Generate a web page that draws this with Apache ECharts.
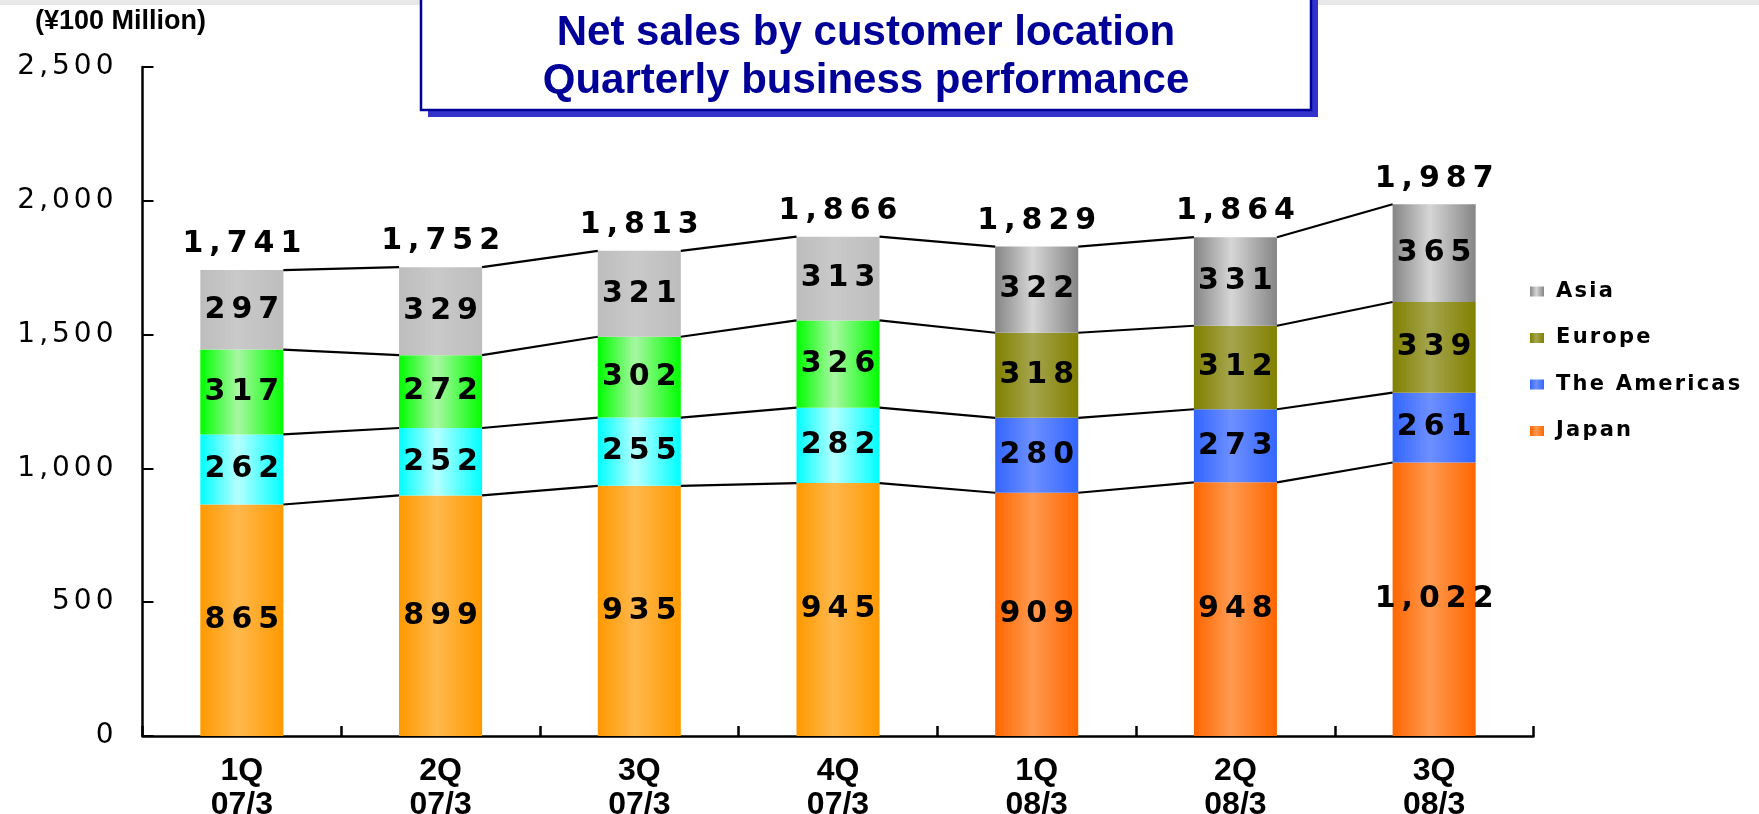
<!DOCTYPE html>
<html>
<head>
<meta charset="utf-8">
<title>Net sales by customer location</title>
<script src="https://cdn.jsdelivr.net/npm/echarts@6/dist/echarts.min.js"></script>
<style>
  html, body { margin: 0; padding: 0; background: #fff; }
  #chart { width: 1759px; height: 814px; }
</style>
</head>
<body>
<div id="chart"></div>
<script>
// Quarterly net sales by customer location (¥100 million)
const quarters    = ['1Q', '2Q', '3Q', '4Q', '1Q', '2Q', '3Q'];
const fiscalYears = ['07/3', '07/3', '07/3', '07/3', '08/3', '08/3', '08/3'];
const japan    = [865, 899, 935, 945, 909, 948, 1022];
const americas = [262, 252, 255, 282, 280, 273, 261];
const europe   = [317, 272, 302, 326, 318, 312, 339];
const asia     = [297, 329, 321, 313, 322, 331, 365];
const yTicks   = [0, 500, 1000, 1500, 2000, 2500];

const categories = quarters.map((q, i) => q + '\n' + fiscalYears[i]);
const totals = japan.map((v, i) => v + americas[i] + europe[i] + asia[i]);

// cumulative boundaries used by the connector lines
const cumJapan    = japan.slice();
const cumAmericas = japan.map((v, i) => v + americas[i]);
const cumEurope   = cumAmericas.map((v, i) => v + europe[i]);
const levels = [cumJapan, cumAmericas, cumEurope, totals];

const BAR_RATIO = 0.418;

// horizontal "cylinder" shading: dark edges, lighter middle
const shade = (edge, mid) => new echarts.graphic.LinearGradient(0, 0, 1, 0, [
  { offset: 0, color: edge },
  { offset: 0.45, color: mid },
  { offset: 1, color: edge }
]);

const palette = {
  Japan:          { old: shade('#FF9900', '#FFB84C'), cur: shade('#FF6600', '#FF9A50') },
  'The Americas': { old: shade('#00FFFF', '#B6FFFF'), cur: shade('#3366FF', '#6D8FFF') },
  Europe:         { old: shade('#00FF00', '#A8F7A2'), cur: shade('#808000', '#A5A54E') },
  Asia:           { old: shade('#BDBDBD', '#C9C9C9'), cur: shade('#858585', '#D6D6D6') }
};

const fmt = v => Number(v).toLocaleString('en-US');
// wraps every character in its own rich fragment so the text gets wide tracking
const spaced = (text, key) => String(text).split('').map(c => '{' + key + '|' + c + '}').join('');

const valueRich = {
  v: { fontFamily: 'DejaVu Sans', fontWeight: 'bold', fontSize: 30, color: '#000', padding: [0, 3], lineHeight: 32 }
};

function barSeries(name, values) {
  return {
    name: name,
    type: 'bar',
    stack: 'total',
    barWidth: (BAR_RATIO * 100) + '%',
    itemStyle: { color: palette[name].cur },
    label: {
      show: true,
      position: 'inside',
      color: '#000',
      fontFamily: 'DejaVu Sans',
      fontWeight: 'bold',
      fontSize: 30,
      formatter: p => spaced(fmt(p.value), 'v'),
      rich: valueRich
    },
    data: values.map((v, i) => ({
      value: v,
      itemStyle: { color: fiscalYears[i] === '07/3' ? palette[name].old : palette[name].cur }
    }))
  };
}

const chart = echarts.init(document.getElementById('chart'), null, { renderer: 'canvas' });

chart.setOption({
  animation: false,
  backgroundColor: '#fff',
  grid: { left: 142.5, right: 225.5, top: 67, bottom: 78, containLabel: false, outerBoundsMode: 'none' },
  graphic: [
    { type: 'rect', z: 0, shape: { x: 0, y: 0, width: 1759, height: 5 }, style: { fill: '#e8e8e8' } },
    { type: 'rect', z: 1, shape: { x: 428, y: -10, width: 890, height: 127 }, style: { fill: '#3333CC' } },
    { type: 'rect', z: 2, shape: { x: 421, y: -10, width: 890, height: 120 },
      style: { fill: '#fff', stroke: '#000099', lineWidth: 2.5 } },
    { type: 'text', z: 3, x: 866, y: 9,
      style: {
        text: 'Net sales by customer location\nQuarterly business performance',
        fontFamily: 'Liberation Sans', fontWeight: 'bold', fontSize: 42, lineHeight: 48,
        fill: '#000099', align: 'center', verticalAlign: 'top'
      } },
    { type: 'text', z: 3, x: 35, y: 22,
      style: {
        text: '(¥100 Million)',
        fontFamily: 'Liberation Sans', fontWeight: 'bold', fontSize: 27,
        fill: '#000', align: 'left', verticalAlign: 'middle'
      } }
  ],
  legend: {
    data: ['Asia', 'Europe', 'The Americas', 'Japan'],
    orient: 'vertical',
    left: 1525,
    top: 276,
    itemWidth: 14,
    itemHeight: 10,
    itemGap: 25.5,
    icon: 'rect',
    selectedMode: false,
    formatter: name => spaced(name, 'l'),
    textStyle: {
      fontFamily: 'DejaVu Sans',
      fontWeight: 'bold',
      fontSize: 21,
      padding: [0, 0, 0, 6],
      rich: {
        l: { fontFamily: 'DejaVu Sans', fontWeight: 'bold', fontSize: 21, color: '#000', padding: [0, 1.1], lineHeight: 21 }
      }
    }
  },
  xAxis: {
    type: 'category',
    data: categories,
    boundaryGap: true,
    axisLine: { lineStyle: { color: '#000', width: 2.5 } },
    axisTick: { show: true, inside: true, length: 10, interval: 0, lineStyle: { color: '#000', width: 2.5 } },
    axisLabel: {
      interval: 0,
      margin: 18,
      color: '#000',
      fontFamily: 'Liberation Sans',
      fontWeight: 'bold',
      fontSize: 32,
      lineHeight: 34
    },
    splitLine: { show: false }
  },
  yAxis: {
    type: 'value',
    min: yTicks[0],
    max: yTicks[yTicks.length - 1],
    interval: yTicks[1] - yTicks[0],
    axisLine: { show: true, lineStyle: { color: '#000', width: 2.5 } },
    axisTick: { show: true, inside: true, length: 11, lineStyle: { color: '#000', width: 2 } },
    splitLine: { show: false },
    axisLabel: {
      margin: 27,
      fontFamily: 'DejaVu Sans',
      fontSize: 28,
      formatter: v => spaced(fmt(v), 'y'),
      rich: {
        y: { fontFamily: 'DejaVu Sans', fontSize: 28, color: '#000', padding: [0, 2] }
      }
    }
  },
  series: [
    barSeries('Japan', japan),
    barSeries('The Americas', americas),
    barSeries('Europe', europe),
    barSeries('Asia', asia),
    {
      // stack totals written above each column
      name: 'Total',
      type: 'scatter',
      silent: true,
      symbolSize: 1,
      itemStyle: { color: 'rgba(0,0,0,0)', opacity: 1 },
      z: 6,
      label: {
        show: true,
        position: 'top',
        distance: 9,
        color: '#000',
        fontFamily: 'DejaVu Sans',
        fontWeight: 'bold',
        fontSize: 30,
        formatter: p => spaced(fmt(p.value), 'v'),
        rich: valueRich
      },
      data: totals
    },
    {
      // thin lines joining the segment boundaries of neighbouring columns
      name: 'Connectors',
      type: 'custom',
      silent: true,
      z: 5,
      data: totals.slice(0, -1).map((t, i) => [i, t]),
      renderItem: function (params, api) {
        const i = params.dataIndex;
        const half = api.size([1, 0])[0] * BAR_RATIO / 2;
        return {
          type: 'group',
          children: levels.map(lv => {
            const a = api.coord([i, lv[i]]);
            const b = api.coord([i + 1, lv[i + 1]]);
            return {
              type: 'line',
              shape: { x1: a[0] + half, y1: a[1], x2: b[0] - half, y2: b[1] },
              style: { stroke: '#000', lineWidth: 2.2 }
            };
          })
        };
      }
    }
  ]
});
</script>
</body>
</html>
